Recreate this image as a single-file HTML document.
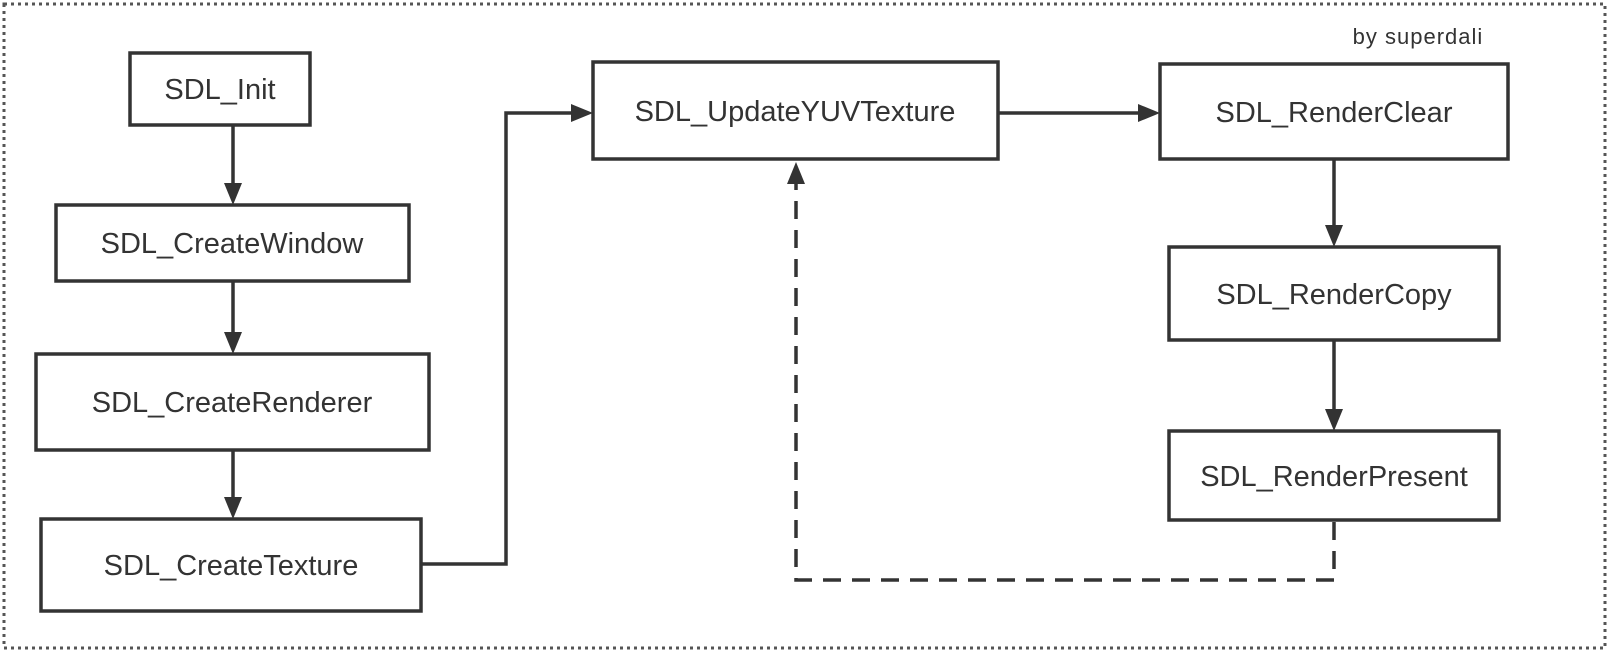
<!DOCTYPE html>
<html><head><meta charset="utf-8"><style>
html,body{margin:0;padding:0;background:#fff;}
svg{display:block;}
text{font-family:"Liberation Sans",sans-serif;fill:#333;}
</style></head><body>
<svg width="1610" height="652" viewBox="0 0 1610 652" xmlns="http://www.w3.org/2000/svg">
<rect x="4" y="4" width="1601" height="644" fill="none" stroke="#555" stroke-width="3" stroke-dasharray="3,4"/>
<g fill="#fff" stroke="#333" stroke-width="3.5">
<rect x="130" y="53" width="180" height="72"/>
<rect x="56" y="205" width="353" height="76"/>
<rect x="36" y="354" width="393" height="96"/>
<rect x="41" y="519" width="380" height="92"/>
<rect x="593" y="62" width="405" height="97"/>
<rect x="1160" y="64" width="348" height="95"/>
<rect x="1169" y="247" width="330" height="93"/>
<rect x="1169" y="431" width="330" height="89"/>
</g>
<g stroke="#333" stroke-width="3.5" fill="none">
<line x1="233" y1="125" x2="233" y2="185"/>
<line x1="233" y1="281" x2="233" y2="334"/>
<line x1="233" y1="450" x2="233" y2="499"/>
<polyline points="421,564 506,564 506,113 573,113"/>
<line x1="998" y1="113" x2="1140" y2="113"/>
<line x1="1334" y1="159" x2="1334" y2="227"/>
<line x1="1334" y1="340" x2="1334" y2="411"/>
<polyline points="1334,522 1334,580 796,580 796,184" stroke-dasharray="18,11"/>
</g>
<g fill="#333">
<polygon points="224,183 242,183 233,205"/>
<polygon points="224,332 242,332 233,354"/>
<polygon points="224,497 242,497 233,519"/>
<polygon points="571,104 571,122 593,113"/>
<polygon points="1138,104 1138,122 1160,113"/>
<polygon points="1325,225 1343,225 1334,247"/>
<polygon points="1325,409 1343,409 1334,431"/>
<polygon points="787,184 805,184 796,162"/>
</g>
<g font-size="29" text-anchor="middle">
<text x="220" y="99">SDL_Init</text>
<text x="232" y="253">SDL_CreateWindow</text>
<text x="232" y="412">SDL_CreateRenderer</text>
<text x="231" y="575">SDL_CreateTexture</text>
<text x="795" y="121">SDL_UpdateYUVTexture</text>
<text x="1334" y="122">SDL_RenderClear</text>
<text x="1334" y="304">SDL_RenderCopy</text>
<text x="1334" y="486">SDL_RenderPresent</text>
</g>
<text x="1418" y="44" font-size="22" letter-spacing="1" text-anchor="middle">by superdali</text>
</svg>
</body></html>
